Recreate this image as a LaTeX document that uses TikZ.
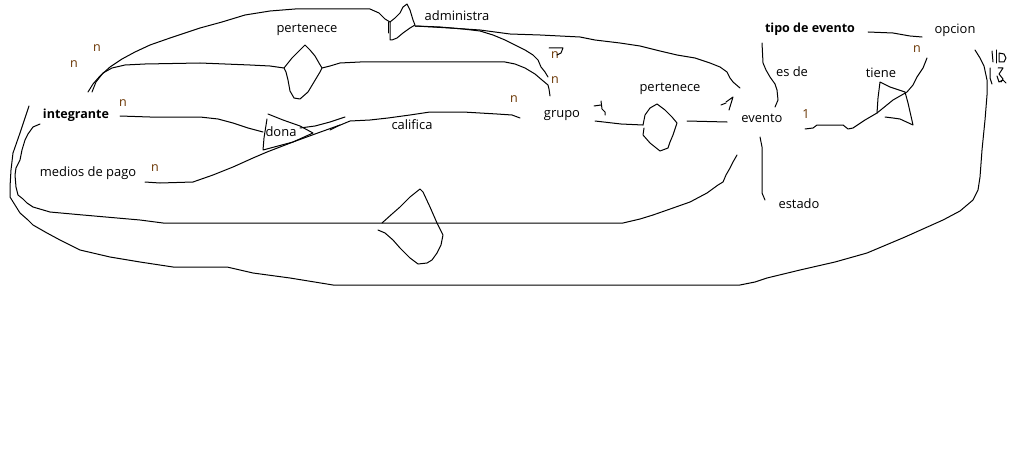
\documentclass[tikz,border=0pt]{standalone}
\usepackage{fontspec}
\setmainfont{Open Sans}
\begin{document}
\begin{tikzpicture}[x=0.75pt,y=-0.75pt,
  sk/.style={draw=black,line width=0.75pt,line join=round,line cap=round},
  lbl/.style={inner sep=0pt,font=\fontsize{9.7}{11}\selectfont,text=black},
  bl/.style={lbl,font=\fontsize{9.4}{11}\selectfont\bfseries,text=black},
  card/.style={inner sep=0pt,font=\fontsize{9.4}{11}\selectfont,text={rgb,255:red,105;green,52;blue,0}}]
\useasboundingbox[fill=white] (0,0) rectangle (1012,460);

% texts
\node[lbl] (pert1) at (307,30) {pertenece};
\node[lbl] (adm) at (457,16) {administra};
\node[card] (n1) at (97,48) {n};
\node[card] (n2) at (74,64) {n};
\node[bl] (integ) at (76,115) {integrante};
\node[card] (n3) at (123,103) {n};
\node[lbl] (dona) at (281,132) {dona};
\node[lbl] (calif) at (412,125) {califica};
\node[card] (n4) at (514,99) {n};
\node[lbl] (grupo) at (562,116) {grupo};
\node[lbl] (pert2) at (670,89) {pertenece};
\node[lbl] (evento) at (762,118) {evento};
\node[card] (one) at (806,114) {1};
\node[lbl] (tiene) at (881,73) {tiene};
\node[card] (n5) at (917,49) {n};
\node[bl] (tipo) at (810,29) {tipo de evento};
\node[lbl] (opcion) at (955,30) {opcion};
\node[lbl] (esde) at (792,72) {es de};
\node[lbl] (estado) at (799,204) {estado};
\node[lbl] (medios) at (88,173) {medios de pago};
\node[card] (n6) at (155,168) {n};
\node[card] (n7) at (555,80) {n};
\node[card] (n8) at (555,55) {n};

% scribble over n8
\draw[sk] (549,48) -- (563,48) -- (561,53) -- (557,55);

% line A: outer top curve to administra
\draw[sk] (88,92) -- (93,84) -- (100,76) -- (110,67) -- (122,59) -- (135,52) -- (150,45) -- (170,38) -- (200,28) -- (222,22) -- (245,15) -- (270,11) -- (295,9) -- (340,9) -- (370,9) -- (379,13) -- (385,19) -- (390,22);
% administra shape
\draw[sk] (390,22) -- (395,18) -- (400,13) -- (403,7) -- (407,4) -- (410,10) -- (413,20) -- (415,25) -- (410,28) -- (403,33) -- (397,38) -- (392,40) -- (390,40) -- (390,22);
\draw[sk] (388,22) -- (388,33);
% line B: inner curve through pertenece diamond
\draw[sk] (92,92) -- (96,82) -- (103,73) -- (112,68) -- (125,65) -- (145,64) -- (200,63) -- (250,65) -- (270,66) -- (284,68);
\draw[sk] (284,68) -- (292,58) -- (299,51) -- (305,45) -- (310,50) -- (315,56) -- (319,63) -- (322,68) -- (320,72) -- (314,82) -- (308,92) -- (300,99) -- (294,98) -- (290,91) -- (288,80) -- (286,72) -- cycle;
\draw[sk] (322,68) -- (330,66) -- (340,63) -- (360,62) -- (420,62) -- (505,62) -- (515,64) -- (525,68) -- (535,74) -- (542,80) -- (548,85) -- (549,89) -- (550,96);
% line C: administra to n near grupo
\draw[sk] (415,26) -- (440,27) -- (463,29) -- (480,31) -- (493,35) -- (505,40) -- (515,45) -- (525,50) -- (533,55) -- (538,60) -- (541,67) -- (545,72) -- (548,77);
% line D: administra to evento
\draw[sk] (415,26) -- (450,28) -- (480,30) -- (510,34) -- (540,35) -- (580,37) -- (595,40) -- (620,43) -- (640,46) -- (660,51) -- (677,55) -- (695,58) -- (710,63) -- (720,67) -- (727,72) -- (730,78) -- (733,82) -- (740,88);
% ticks near grupo and evento
\draw[sk] (594,106) -- (601,105);
\draw[sk] (601,101) -- (602,109) -- (605,112) -- (605,115);
\draw[sk] (721,105) -- (726,103);
\draw[sk] (726,102) -- (733,97) -- (729,110);
% integrante to dona
\draw[sk] (120,116) -- (150,117) -- (200,117) -- (218,119) -- (233,123) -- (248,128) -- (263,132);
% dona shape
\draw[sk] (268,114) -- (283,120) -- (300,126) -- (313,133) -- (293,142) -- (263,150) -- (264,138) -- (267,119);
\draw[sk] (300,128) -- (315,126) -- (330,122) -- (345,117);
% medios de pago line up to califica
\draw[sk] (145,182) -- (160,183) -- (193,182) -- (213,175) -- (233,167) -- (253,158) -- (267,152) -- (293,142) -- (315,134) -- (340,125);
% califica line
\draw[sk] (330,130) -- (338,126) -- (350,121) -- (370,120) -- (388,118) -- (410,115) -- (430,112) -- (463,112) -- (497,114) -- (512,115) -- (520,118);
% grupo to pertenece diamond to evento
\draw[sk] (595,121) -- (621,124) -- (643,125);
\draw[sk] (643,125) -- (645,115) -- (650,108) -- (657,104) -- (665,110) -- (672,117) -- (677,123) -- (673,135) -- (670,142) -- (668,148) -- (660,151) -- (650,143) -- (643,135) -- (644,128);
\draw[sk] (687,121) -- (727,122);
% loop 1 (inner)
\draw[sk] (40,124) -- (33,127) -- (28,134) -- (25,140) -- (22,150) -- (20,160) -- (16,168) -- (15,175) -- (16,187) -- (18,195) -- (23,199) -- (27,203) -- (33,207) -- (50,212) -- (83,215) -- (140,220) -- (163,223) -- (500,223) -- (623,223) -- (640,219) -- (653,215) -- (673,208) -- (690,202) -- (707,193) -- (718,185) -- (723,182) -- (726,175) -- (730,168) -- (733,162) -- (737,155);
% big diamond
\draw[sk] (382,223) -- (392,214) -- (400,207) -- (410,197) -- (420,189) -- (423,192) -- (430,207) -- (437,223) -- (443,235) -- (441,245) -- (437,253) -- (432,260) -- (427,263) -- (418,264) -- (410,258) -- (400,248) -- (393,240) -- (385,233) -- (378,230);
% loop 2 (outer)
\draw[sk] (29,106) -- (25,118) -- (20,133) -- (13,153) -- (11,170) -- (10,187) -- (10,197) -- (15,205) -- (20,213) -- (28,220) -- (33,225) -- (47,233) -- (60,240) -- (80,250) -- (110,257) -- (140,262) -- (173,267) -- (227,267) -- (253,273) -- (290,278) -- (333,285) -- (500,285) -- (740,285) -- (755,282) -- (767,278) -- (800,270) -- (835,262) -- (867,253) -- (905,237) -- (943,220) -- (960,211) -- (973,200) -- (978,190) -- (980,177) -- (982,150) -- (985,120) -- (987,95) -- (987,80) -- (984,66) -- (980,58) -- (975,50);
% evento to estado
\draw[sk] (760,137) -- (762,147) -- (762,193) -- (765,200);
% tipo de evento - es de - evento
\draw[sk] (762,43) -- (763,63) -- (766,70) -- (770,77) -- (775,84) -- (777,90) -- (778,100) -- (775,107);
% 1 to tiene to n
\draw[sk] (805,129) -- (813,128) -- (817,125) -- (843,125) -- (848,129) -- (853,128) -- (865,120) -- (877,113) -- (893,100) -- (907,92) -- (913,85) -- (917,77) -- (923,68) -- (927,58);
% tiene triangle
\draw[sk] (877,113) -- (878,98) -- (880,82) -- (890,87) -- (905,92) -- (908,103) -- (913,125) -- (900,119) -- (893,118) -- (885,117);
% tipo de evento to opcion
\draw[sk] (868,32) -- (893,33) -- (910,36) -- (922,37);
% scribbles at right edge
\draw[sk] (992,51) -- (993,62);
\draw[sk] (996,50) -- (996,63);
\draw[sk] (999,53) -- (999,62) -- (1004,62) -- (1006,58) -- (1004,54) -- (999,53);
\draw[sk] (990,68) -- (990,78) -- (992,84);
\draw[sk] (998,68) -- (1003,68) -- (999,74) -- (1003,79) -- (1001,82);
\draw[sk] (997,76) -- (999,82) -- (1003,80) -- (1006,83);
\end{tikzpicture}
\end{document}
